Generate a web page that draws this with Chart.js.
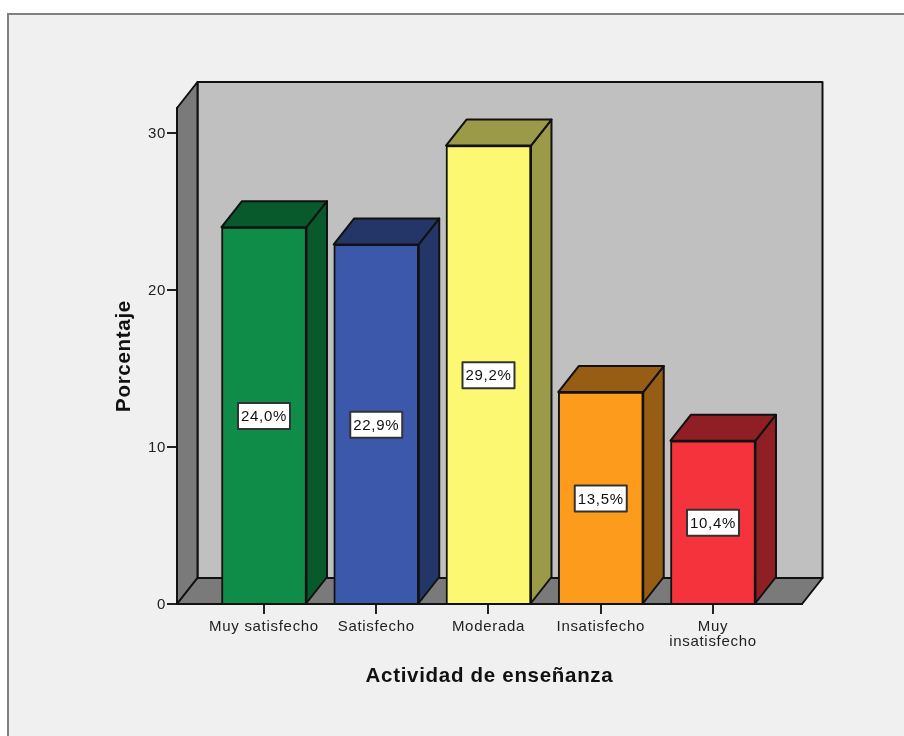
<!DOCTYPE html>
<html><head><meta charset="utf-8">
<style>html,body{margin:0;padding:0;background:#fff}#w{width:904px;height:736px;position:relative}canvas{display:block}</style>
<script src="https://cdn.jsdelivr.net/npm/chart.js@4"></script>
</head><body><div id="w"><canvas id="c" width="904" height="736"></canvas></div>
<script>
const categories = [["Muy satisfecho"], ["Satisfecho"], ["Moderada"], ["Insatisfecho"], ["Muy", "insatisfecho"]];
const values = [24.0, 22.9, 29.2, 13.5, 10.4];
const frontColors = ["#0f8c47", "#3c58aa", "#fdf871", "#fd9b1c", "#f5333c"];
const sideColors = ["#08592b", "#243568", "#9b9a49", "#985d14", "#8f1f24"];
const yTicks = [0, 10, 20, 30];
const xTitle = "Actividad de enseñanza";
const yTitle = "Porcentaje";
const FONT = "'Liberation Sans', Arial, sans-serif";
const DX = 20.5, DY = -26, EDGE = "#111", SPACING = "0.7px";

function poly(ctx, pts, fill, lw) {
  ctx.beginPath();
  pts.forEach((p, i) => i ? ctx.lineTo(p[0], p[1]) : ctx.moveTo(p[0], p[1]));
  ctx.closePath();
  ctx.fillStyle = fill; ctx.fill();
  ctx.lineWidth = lw; ctx.strokeStyle = EDGE; ctx.lineJoin = "round"; ctx.stroke();
}

const scene = {
  id: "scene",
  beforeLayout(chart) { chart.ctx.letterSpacing = SPACING; },
  beforeDraw(chart) {
    const c = chart.ctx;
    c.letterSpacing = SPACING;
    c.save();
    c.fillStyle = "#f0f0f0"; c.fillRect(8, 14, 896, 722);
    c.strokeStyle = "#808080"; c.lineWidth = 2;
    c.beginPath(); c.moveTo(8, 736); c.lineTo(8, 14); c.lineTo(904, 14); c.stroke();
    c.restore();
  },
  beforeDatasetsDraw(chart) {
    const c = chart.ctx, a = chart.chartArea, L = a.left, R = a.right, T = a.top, B = a.bottom;
    c.save();
    poly(c, [[L + DX, T + DY], [R + DX, T + DY], [R + DX, B + DY], [L + DX, B + DY]], "#c0c0c0", 2);
    poly(c, [[L, T], [L + DX, T + DY], [L + DX, B + DY], [L, B]], "#7a7a7a", 2);
    poly(c, [[L, B], [L + DX, B + DY], [R + DX, B + DY], [R, B]], "#7a7a7a", 2);
    c.restore();
  },
  afterDatasetsDraw(chart) {
    const c = chart.ctx;
    const bars = chart.getDatasetMeta(0).data;
    c.save();
    bars.forEach((b, i) => {
      const l = b.x - b.width / 2, r = b.x + b.width / 2, t = b.y, bt = b.base;
      poly(c, [[r, t], [r + DX, t + DY], [r + DX, bt + DY], [r, bt]], sideColors[i], 2);
      poly(c, [[l, t], [l + DX, t + DY], [r + DX, t + DY], [r, t]], sideColors[i], 2);
    });
    c.font = "15px " + FONT;
    c.textAlign = "center"; c.textBaseline = "middle";
    bars.forEach((b, i) => {
      const txt = values[i].toFixed(1).replace(".", ",") + "%";
      const my = (b.y + b.base) / 2 + 1, w = 52, h = 26;
      c.fillStyle = "#fff"; c.fillRect(b.x - w / 2, my - h / 2, w, h);
      c.strokeStyle = "#333"; c.lineWidth = 2; c.strokeRect(b.x - w / 2, my - h / 2, w, h);
      c.fillStyle = "#111"; c.fillText(txt, b.x, my + 1);
    });
    c.restore();
  }
};

new Chart(document.getElementById("c"), {
  type: "bar",
  data: { datasets: [{
    data: values.map((v, i) => ({ x: i, y: v })),
    backgroundColor: frontColors,
    borderColor: EDGE,
    borderWidth: 2,
    barThickness: 85
  }] },
  plugins: [scene],
  options: {
    responsive: false, animation: false,
    layout: { padding: { left: 111, right: 102, top: 108, bottom: 46 } },
    plugins: { legend: { display: false }, tooltip: { enabled: false } },
    scales: {
      x: {
        type: "linear", min: -0.775, max: 4.793, offset: false,
        afterFit(s) { s.height = 86; },
        afterBuildTicks(s) { s.ticks = categories.map((_, i) => ({ value: i })); },
        grid: { offset: false, drawOnChartArea: false, drawTicks: true, tickLength: 10, color: "#222", lineWidth: 2 },
        border: { color: "#111", width: 2 },
        ticks: { autoSkip: false, maxRotation: 0, padding: 5, color: "#222",
          font: { family: FONT, size: 15, lineHeight: 1 },
          callback: v => categories[v] },
        title: { display: true, text: xTitle, color: "#111", padding: 0,
          font: { family: FONT, size: 20.5, weight: "bold", lineHeight: 1.3 } }
      },
      y: {
        min: 0, max: 31.59,
        afterFit(s) { s.width = 66; },
        afterBuildTicks(s) { s.ticks = yTicks.map(v => ({ value: v })); },
        grid: { drawOnChartArea: false, drawTicks: true, tickLength: 10, color: "#222", lineWidth: 2 },
        border: { color: "#111", width: 2 },
        ticks: { padding: 1, labelOffset: 1, color: "#222", font: { family: FONT, size: 15 } },
        title: { display: true, text: yTitle, color: "#111", padding: 0,
          font: { family: FONT, size: 20.5, weight: "bold", lineHeight: 1.3 } }
      }
    }
  }
});
</script></body></html>
